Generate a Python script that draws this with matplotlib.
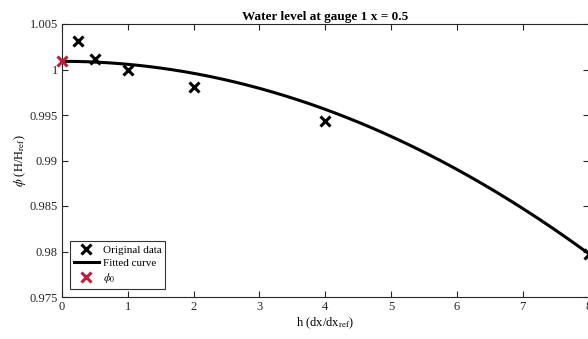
import numpy as np
import matplotlib
matplotlib.use("Agg")
import matplotlib.pyplot as plt
from matplotlib.ticker import FuncFormatter

# ---- data ----
h_data = [0.25, 0.5, 1, 2, 4, 8]
phi_data = [1.0031, 1.0012, 1.0000, 0.9981, 0.9943, 0.9797]

# fitted model phi = phi0 + c * h^p
phi0 = 1.0009
fit_c = -0.00033
fit_p = 2.0

xticks = [0, 1, 2, 3, 4, 5, 6, 7, 8]
yticks = [0.975, 0.98, 0.985, 0.99, 0.995, 1.0, 1.005]

plt.rcParams["font.family"] = ["Liberation Serif", "DejaVu Serif"]
plt.rcParams["mathtext.fontset"] = "stix"

fig = plt.figure(figsize=(5.88, 3.39), dpi=100)
ax = fig.add_axes([62 / 588, 1 - 297 / 339, 526.5 / 588, 273 / 339])

h_fit = np.linspace(0, 8, 300)
phi_fit = phi0 + fit_c * h_fit ** fit_p

ax.plot(h_data, phi_data, "x", color="black", markersize=7, mew=2.2,
        label="Original data", zorder=3)
ax.plot(h_fit, phi_fit, "-", color="black", lw=2.2, label="Fitted curve")
ax.plot([0], [phi0], "x", color="#c8193c", markersize=7, mew=2.2,
        label=r"$\phi_0$", clip_on=False, zorder=4)

ax.set_xlim(0, 8)
ax.set_ylim(0.975, 1.005)
ax.set_xticks(xticks)
ax.set_yticks(yticks)
ax.yaxis.set_major_formatter(FuncFormatter(lambda v, p: f"{v:.3f}".rstrip("0").rstrip(".")))
ax.tick_params(direction="in", top=True, right=True, labelsize=9, length=4,
               width=0.8, colors="#262626", pad=3)
for s in ax.spines.values():
    s.set_linewidth(0.8)
    s.set_color("#262626")

ax.set_title("Water level at gauge 1 x = 0.5", fontsize=9.5, fontweight="bold", pad=3)
ax.set_xlabel(r"h (dx/dx$_{\rm ref}$)", fontsize=9, labelpad=2)
ax.set_ylabel(r"$\phi$ (H/H$_{\rm ref}$)", fontsize=9, labelpad=1)

leg = ax.legend(loc="lower left", fontsize=8, frameon=True, fancybox=False,
                edgecolor="black", borderpad=0.35, labelspacing=0.3,
                handlelength=2.3, handletextpad=0.3, borderaxespad=0.7)
leg.get_frame().set_linewidth(0.8)

fig.savefig("out.png", dpi=100)
